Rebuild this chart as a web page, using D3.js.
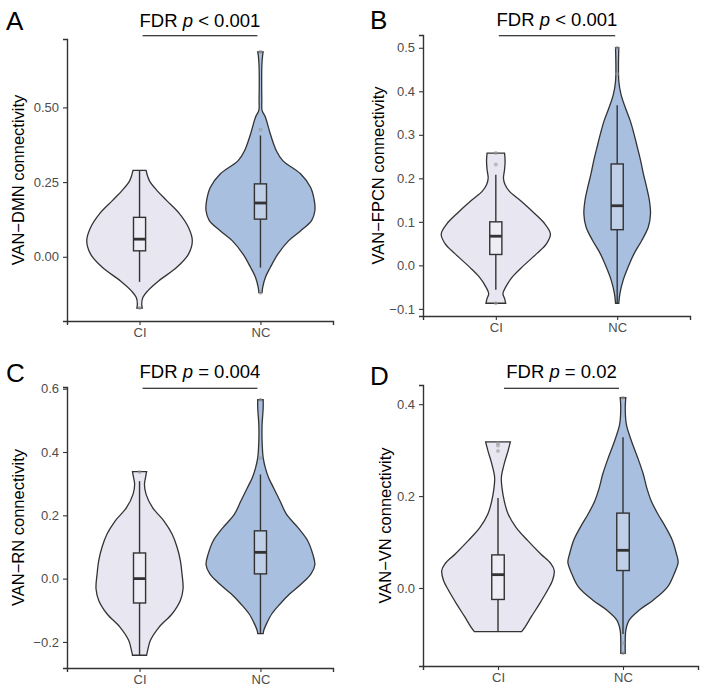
<!DOCTYPE html>
<html>
<head>
<meta charset="utf-8">
<script src="https://cdn.jsdelivr.net/npm/d3@7"></script>
<style>
    body { margin: 0; background: #fff; }
    svg text { font-family: "Liberation Sans", Arial, sans-serif; }
</style>
</head>
<body>
<div id="chart"></div>
<script>
// ---- data ----
const groups = ["CI", "NC"];
const panelLetters = ["A", "B", "C", "D"];
const yTitles = ["VAN\u2212DMN connectivity", "VAN\u2212FPCN connectivity", "VAN\u2212RN connectivity", "VAN\u2212VN connectivity"];
const pSuffix = [" < 0.001", " < 0.001", " = 0.004", " = 0.02"];
const yTicks = [[0, 0.25, 0.5], [-0.1, 0, 0.1, 0.2, 0.3, 0.4, 0.5], [-0.2, 0, 0.2, 0.4, 0.6], [0, 0.2, 0.4]];
const tickFormats = [".2f", ".1f", ".1f", ".1f"];

// violin outlines: [value, relative density]
const violinA_CI = [[0.289,0.12],[0.255,0.18],[0.22,0.33],[0.188,0.5],[0.143,0.74],[0.098,0.9],[0.054,0.97],[0.009,0.9],[-0.036,0.68],[-0.081,0.35],[-0.114,0.15],[-0.136,0.06],[-0.159,0.04],[-0.172,0.05]];
const violinA_NC = [[0.686,0.05],[0.675,0.04],[0.635,0.025],[0.523,0.025],[0.49,0.03],[0.468,0.09],[0.412,0.18],[0.356,0.29],[0.322,0.41],[0.277,0.74],[0.233,0.92],[0.188,0.99],[0.154,1.0],[0.121,0.94],[0.087,0.74],[0.054,0.52],[0.009,0.32],[-0.036,0.18],[-0.069,0.09],[-0.103,0.04],[-0.12,0.03]];
const violinB_CI = [[0.258,0.16],[0.24,0.17],[0.22,0.16],[0.2,0.14],[0.185,0.17],[0.17,0.25],[0.149,0.45],[0.118,0.72],[0.095,0.9],[0.072,1.0],[0.05,0.93],[0.027,0.75],[-0.004,0.48],[-0.027,0.3],[-0.05,0.18],[-0.065,0.13],[-0.076,0.16],[-0.087,0.18]];
const violinB_NC = [[0.5,0.03],[0.423,0.03],[0.393,0.07],[0.362,0.15],[0.332,0.24],[0.301,0.31],[0.271,0.37],[0.24,0.43],[0.21,0.48],[0.179,0.54],[0.149,0.59],[0.118,0.61],[0.088,0.57],[0.057,0.45],[0.027,0.31],[-0.004,0.2],[-0.034,0.11],[-0.065,0.05],[-0.087,0.03]];
const violinC_CI = [[0.338,0.13],[0.319,0.11],[0.298,0.09],[0.266,0.12],[0.224,0.24],[0.182,0.45],[0.14,0.6],[0.099,0.69],[0.057,0.75],[0.015,0.78],[-0.032,0.8],[-0.069,0.75],[-0.111,0.6],[-0.153,0.36],[-0.195,0.2],[-0.226,0.15],[-0.242,0.13]];
const violinC_NC = [[0.565,0.05],[0.539,0.05],[0.486,0.03],[0.434,0.03],[0.382,0.05],[0.35,0.09],[0.319,0.15],[0.287,0.24],[0.245,0.36],[0.203,0.48],[0.161,0.69],[0.119,0.87],[0.078,0.96],[0.044,1.0],[0.015,0.93],[-0.017,0.75],[-0.048,0.54],[-0.08,0.36],[-0.111,0.21],[-0.143,0.11],[-0.164,0.06],[-0.174,0.05]];
const violinD_CI = [[0.318,0.22],[0.299,0.18],[0.27,0.11],[0.241,0.06],[0.219,0.07],[0.19,0.11],[0.161,0.18],[0.132,0.32],[0.103,0.53],[0.074,0.76],[0.053,0.94],[0.038,1.0],[0.017,0.97],[-0.005,0.88],[-0.034,0.74],[-0.063,0.59],[-0.085,0.48],[-0.095,0.42]];
const violinD_NC = [[0.414,0.05],[0.393,0.04],[0.356,0.06],[0.32,0.15],[0.284,0.26],[0.248,0.36],[0.219,0.42],[0.19,0.5],[0.161,0.62],[0.132,0.76],[0.103,0.88],[0.074,0.95],[0.056,0.98],[0.031,0.91],[0.002,0.79],[-0.027,0.53],[-0.048,0.29],[-0.07,0.11],[-0.092,0.05],[-0.113,0.04],[-0.142,0.04]];

// box stats: [lower whisker, q1, median, q3, upper whisker]
const boxA = [[-0.084, 0.02, 0.059, 0.132, 0.289], [-0.036, 0.126, 0.18, 0.244, 0.406]];
const boxB = [[-0.056, 0.025, 0.067, 0.1, 0.208], [-0.087, 0.082, 0.137, 0.233, 0.368]];
const boxC = [[-0.242, -0.077, 0.0, 0.081, 0.308], [-0.174, 0.015, 0.083, 0.151, 0.329]];
const boxD = [[-0.095, -0.025, 0.029, 0.072, 0.196], [-0.1, 0.038, 0.082, 0.163, 0.328]];

// outliers per group
const outA = [[-0.171], [0.425, 0.686, -0.12]];
const outB = [[0.232, 0.258, -0.087], [0.5, 0.44]];
const outC = [[0.337], [0.38, 0.565]];
const outD = [[0.298, 0.31, 0.315], [0.414, -0.142, -0.12]];

const violins = [[violinA_CI, violinA_NC], [violinB_CI, violinB_NC], [violinC_CI, violinC_NC], [violinD_CI, violinD_NC]];
const boxes = [boxA, boxB, boxC, boxD];
const outliers = [outA, outB, outC, outD];

// ---- layout ----
const width = 703, height = 690;
const panels = [
    {left: 67, top: 39, bottom: 321, right: 333, letterX: 6, letterY: 29.5, titleX: 18, barY: 35.7, barIn: [3, 3], pY: 26.5},
    {left: 423, top: 35, bottom: 316, right: 690, letterX: 370, letterY: 29, titleX: 378, barY: 35.7, barIn: [3, 2], pY: 26},
    {left: 67, top: 387, bottom: 668, right: 333, letterX: 6, letterY: 382, titleX: 18, barY: 388.3, barIn: [3, 3], pY: 378},
    {left: 423, top: 385, bottom: 666, right: 698, letterX: 370, letterY: 385, titleX: 385, barY: 388.3, barIn: [6, 4], pY: 378}
];
const fills = {CI: "#e8e6f1", NC: "#a8bfdf"};
const ink = "#333333";

const svg = d3.select("#chart").append("svg")
    .attr("width", width)
    .attr("height", height);

panels.forEach((p, i) => {
    let g = svg.append("g");

    // y domain from data range with ggplot-style 5% expansion
    let allVals = [];
    violins[i].forEach(v => v.forEach(d => allVals.push(d[0])));
    let ext = d3.extent(allVals);
    let pad = (ext[1] - ext[0]) * 0.05;
    let y = d3.scaleLinear().domain([ext[0] - pad, ext[1] + pad]).range([p.bottom, p.top]);
    let x = d3.scalePoint().domain(groups).range([p.left, p.right]).padding(0.6);
    let halfW = x.step() * 0.45;
    let boxHalf = x.step() * 0.05;

    // violins
    groups.forEach((grp, j) => {
        let area = d3.area()
            .y(d => y(d[0]))
            .x0(d => x(grp) - d[1] * halfW)
            .x1(d => x(grp) + d[1] * halfW)
            .curve(d3.curveCatmullRom.alpha(0.5));
        g.append("path")
            .datum(violins[i][j])
            .attr("d", area)
            .attr("fill", fills[grp])
            .attr("stroke", ink)
            .attr("stroke-width", 1.3);
    });

    // boxplots
    groups.forEach((grp, j) => {
        let b = boxes[i][j];
        let cx = x(grp);
        g.append("line")
            .attr("x1", cx).attr("x2", cx)
            .attr("y1", y(b[4])).attr("y2", y(b[3]))
            .attr("stroke", ink).attr("stroke-width", 1.4);
        g.append("line")
            .attr("x1", cx).attr("x2", cx)
            .attr("y1", y(b[1])).attr("y2", y(b[0]))
            .attr("stroke", ink).attr("stroke-width", 1.4);
        g.append("rect")
            .attr("x", cx - boxHalf)
            .attr("y", y(b[3]))
            .attr("width", boxHalf * 2)
            .attr("height", y(b[1]) - y(b[3]))
            .attr("fill", "#ffffff")
            .attr("fill-opacity", 0.25)
            .attr("stroke", ink)
            .attr("stroke-width", 1.4);
        g.append("line")
            .attr("x1", cx - boxHalf).attr("x2", cx + boxHalf)
            .attr("y1", y(b[2])).attr("y2", y(b[2]))
            .attr("stroke", ink).attr("stroke-width", 2.8);

        g.selectAll(null)
            .data(outliers[i][j])
            .enter()
            .append("circle")
            .attr("cx", cx)
            .attr("cy", d => y(d))
            .attr("r", 2)
            .attr("fill", "#9a9a9a")
            .attr("fill-opacity", 0.6);
    });

    // axes
    let yAxis = d3.axisLeft(y)
        .tickValues(yTicks[i])
        .tickFormat(d3.format(tickFormats[i]))
        .tickSizeOuter(0)
        .tickSize(4)
        .tickPadding(4);
    let xAxis = d3.axisBottom(x)
        .tickSizeOuter(0)
        .tickSize(4)
        .tickPadding(3);

    let ya = g.append("g")
        .attr("transform", `translate(${p.left},0)`)
        .call(yAxis);
    let xa = g.append("g")
        .attr("transform", `translate(0,${p.bottom})`)
        .call(xAxis);

    [ya, xa].forEach(a => {
        a.select(".domain").attr("stroke", ink).attr("stroke-width", 1.4);
        a.selectAll(".tick line").attr("stroke", ink).attr("stroke-width", 1.1);
        a.selectAll(".tick text")
            .attr("fill", "#4d4d4d")
            .attr("font-size", 13)
            .attr("font-family", "Liberation Sans, Arial, sans-serif");
    });
    ya.selectAll(".tick text").text(d => d3.format(tickFormats[i])(d).replace("-", "\u2212"));

    // y axis title
    g.append("text")
        .attr("transform", `translate(${p.titleX},${(p.top + p.bottom) / 2}) rotate(-90)`)
        .attr("text-anchor", "middle")
        .attr("dominant-baseline", "central")
        .attr("font-size", 16.5)
        .attr("fill", "#000")
        .text(yTitles[i]);

    // panel letter
    g.append("text")
        .attr("x", p.letterX)
        .attr("y", p.letterY)
        .attr("font-size", 26)
        .attr("fill", "#000")
        .text(panelLetters[i]);

    // significance bar + label
    let bx1 = x(groups[0]) + p.barIn[0];
    let bx2 = x(groups[1]) - p.barIn[1];
    g.append("line")
        .attr("x1", bx1).attr("x2", bx2)
        .attr("y1", p.barY).attr("y2", p.barY)
        .attr("stroke", "#000")
        .attr("stroke-width", 1.1);

    let t = g.append("text")
        .attr("x", (bx1 + bx2) / 2)
        .attr("y", p.pY)
        .attr("text-anchor", "middle")
        .attr("font-size", 18.5)
        .attr("fill", "#000");
    t.append("tspan").text("FDR ");
    t.append("tspan").attr("font-style", "italic").text("p");
    t.append("tspan").text(pSuffix[i]);
});
</script>
</body>
</html>
